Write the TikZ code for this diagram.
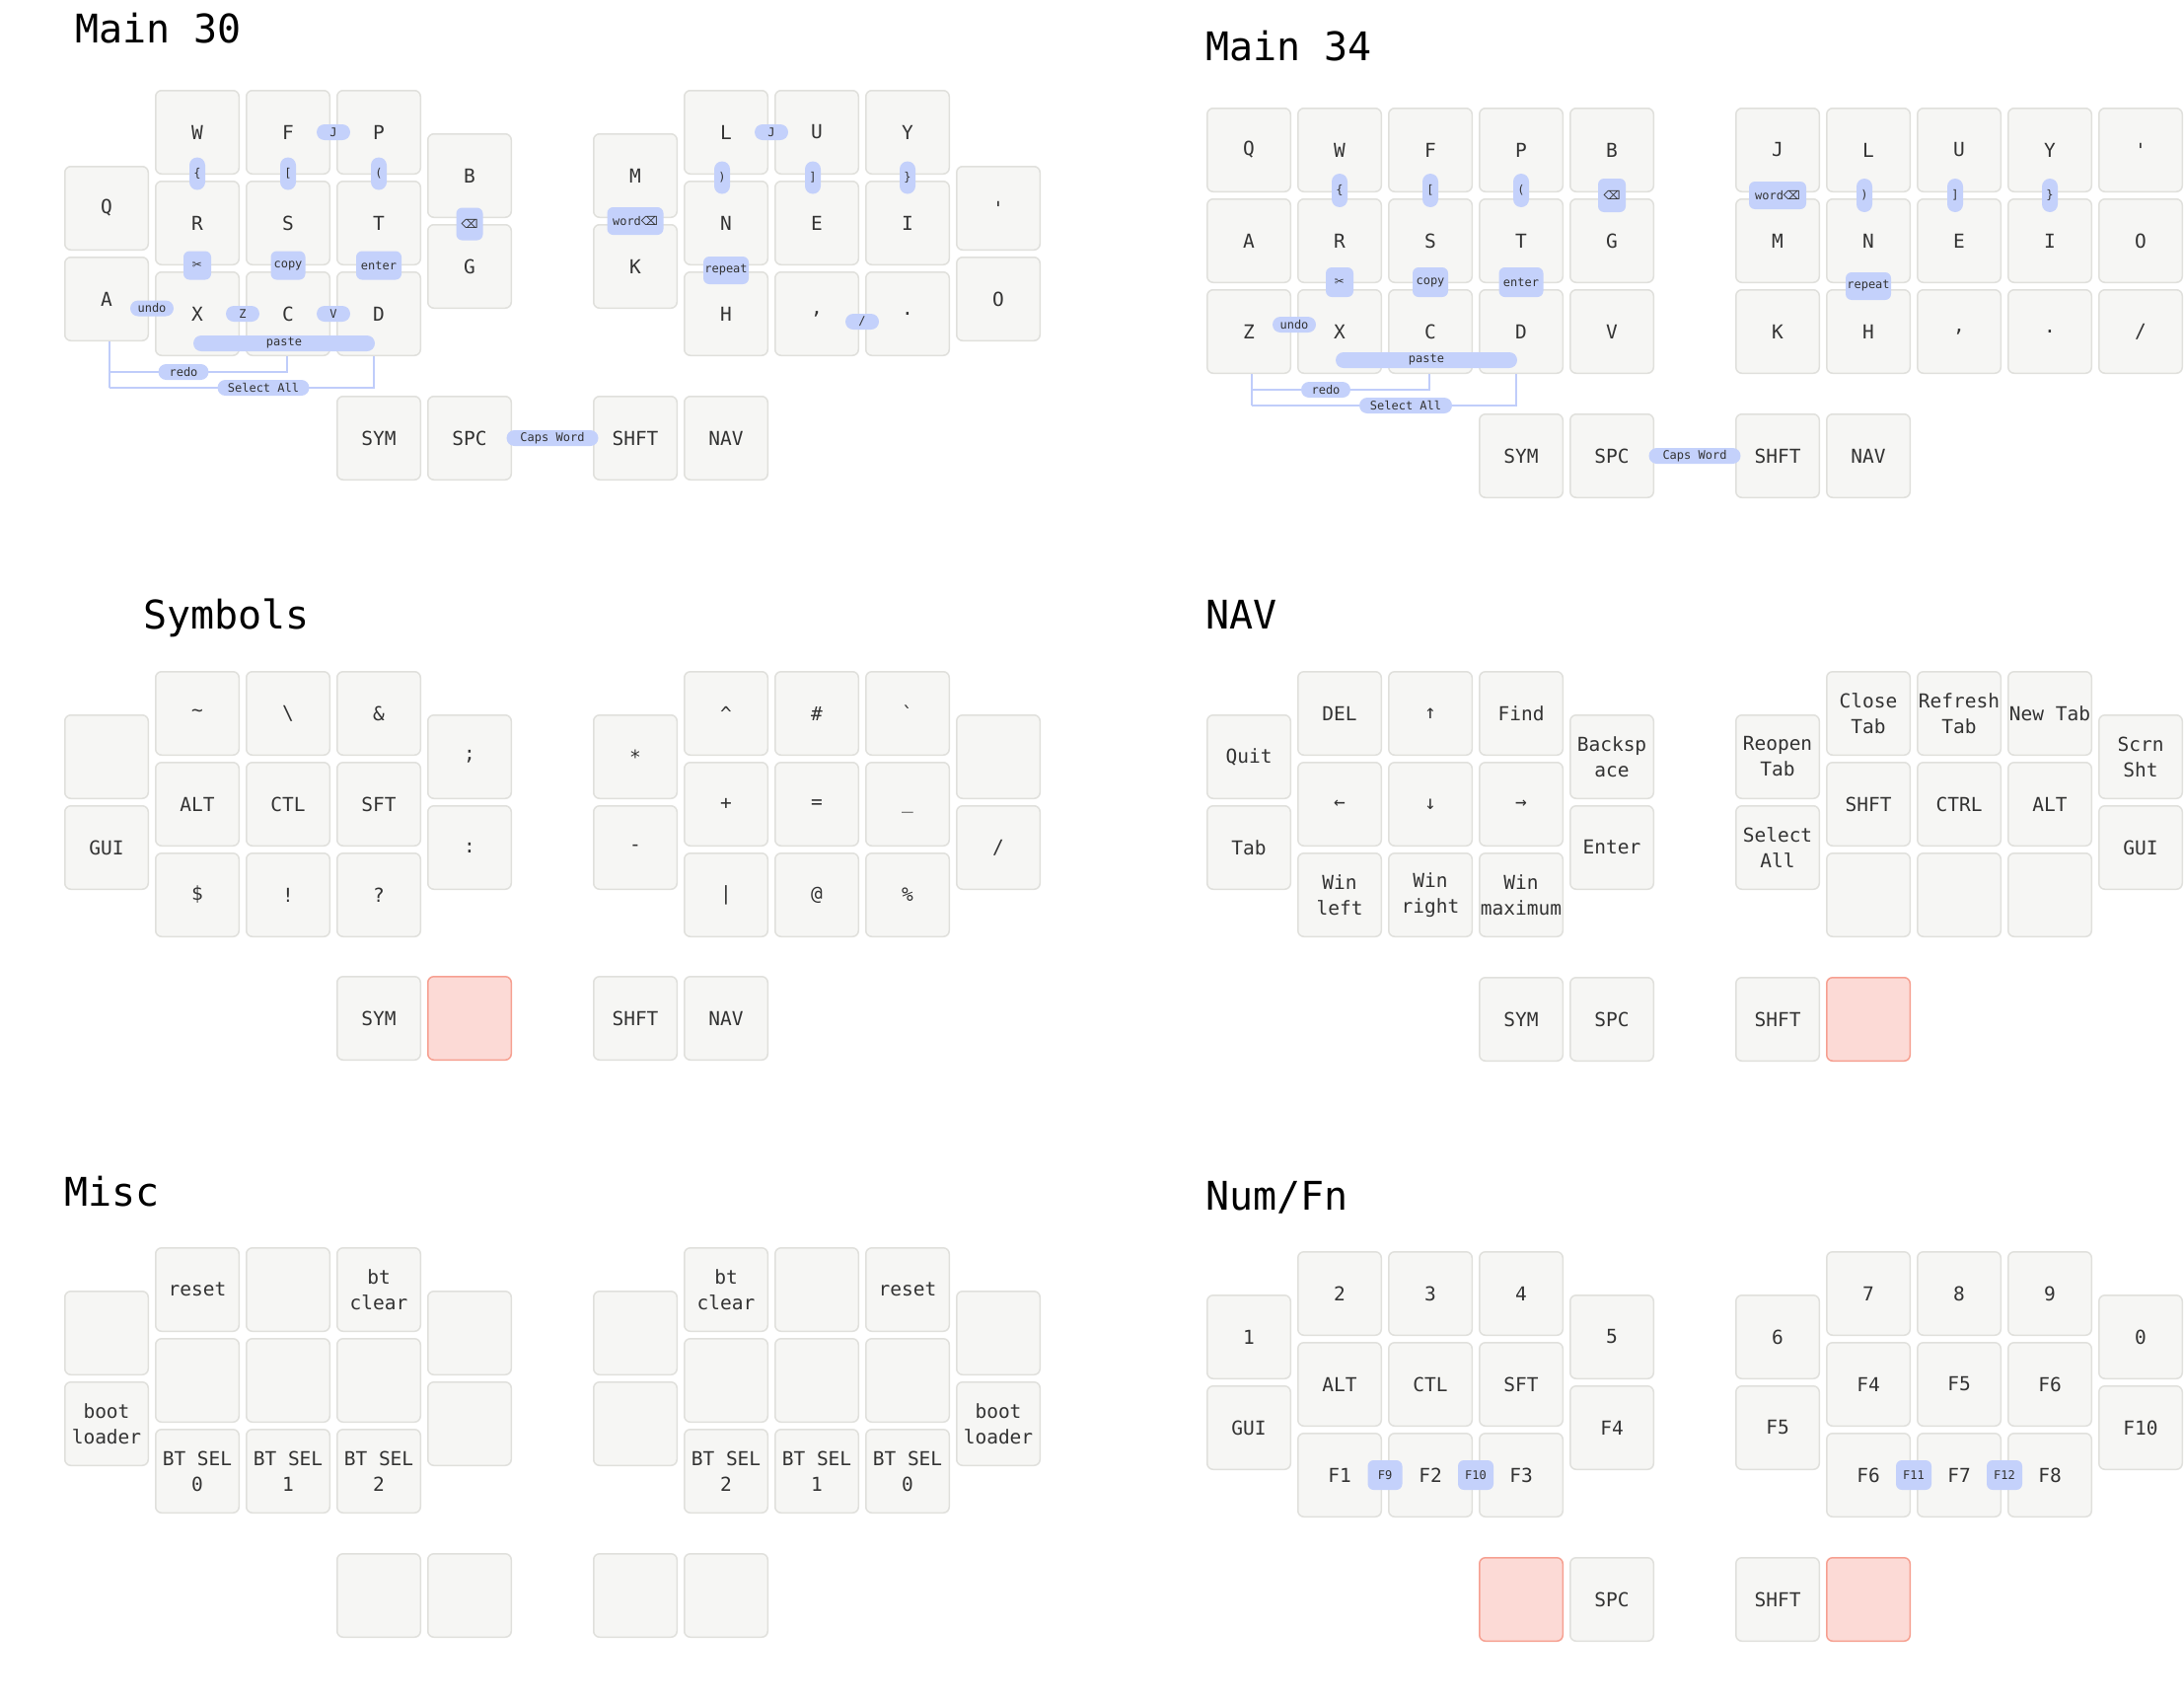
\documentclass[tikz,border=0pt]{standalone}
\usepackage{fontspec}
\setmonofont{DejaVu Sans Mono}
\newfontfamily\symfont{DejaVu Sans}
\usetikzlibrary{calc}

\definecolor{keybg}{HTML}{F6F6F4}
\definecolor{keyedge}{HTML}{E0E0DC}
\definecolor{keyink}{HTML}{333333}
\definecolor{heldbg}{HTML}{FCDAD6}
\definecolor{heldedge}{HTML}{F6A091}
\definecolor{combobg}{HTML}{C4D1FB}
\definecolor{comboedge}{HTML}{C0CDFA}

\begin{document}
\begin{tikzpicture}[x=1pt, y=-1pt,
    key/.style={draw=keyedge, fill=keybg, line width=1.5pt, rounded corners=6pt,
      minimum width=84.5pt, minimum height=84.5pt, inner sep=0pt, anchor=north west,
      align=center, text=keyink, font=\ttfamily\fontsize{19.5}{26}\selectfont},
    held/.style={key, draw=heldedge, fill=heldbg},
    combo/.style={fill=combobg, rounded corners=6pt, inner sep=0pt, text=keyink,
      font=\ttfamily\fontsize{12}{14}\selectfont},
    hcombo/.style={combo, rounded corners=8pt, minimum height=16pt},
    vcombo/.style={combo, rounded corners=8pt, minimum width=16pt, minimum height=33pt},
    boxcombo/.style={combo, minimum height=29pt},
    combolink/.style={draw=comboedge, line width=2pt},
    title/.style={anchor=base west, inner sep=0pt, font=\ttfamily\fontsize{40}{40}\selectfont}]
  \useasboundingbox (0,0) rectangle (2214,1722);
  \fill[white] (0,0) rectangle (2214,1722);

  % layer titles
  \node[title] (t-main30) at (76,43) {Main 30};
  \node[title] (t-main34) at (1222,61) {Main 34};
  \node[title] (t-sym) at (145,637) {Symbols};
  \node[title] (t-nav) at (1222,637) {NAV};
  \node[title] (t-misc) at (65,1222) {Misc};
  \node[title] (t-num) at (1222,1226) {Num/Fn};

  % Main 30
  \begin{scope}[shift={(65,91)}]
    \foreach \lx/\ly/\klist [count=\col from 0] in {0/77/{Q,A}, 92/0/{W,R,X},
        184/0/{F,S,C}, 276/0/{P,T,D}, 368/44/{B,G}, 536/44/{M,K}, 628/0/{L,N,H},
        720/0/{U,E,{,}}, 812/0/{Y,I,.}, 904/77/{',O}}
      \foreach \klab [count=\row from 0] in \klist
        \node[key] (m30-\col-\row) at ({\lx},{\ly+92*\row}) {\klab};
    \foreach \lx/\klab [count=\n] in {276/SYM, 368/SPC, 536/SHFT, 628/NAV}
      \node[key] (m30-t\n) at (\lx,310) {\klab};
    % combos
    \node[hcombo, minimum width=34pt] (m30-c-j) at ($(m30-2-0)!.5!(m30-3-0)$) {J};
    \node[vcombo, yshift=4pt] (m30-c-lbrace) at ($(m30-1-0)!.5!(m30-1-1)$) {\{};
    \node[vcombo, yshift=4pt] (m30-c-lbrack) at ($(m30-2-0)!.5!(m30-2-1)$) {[};
    \node[vcombo, yshift=4pt] (m30-c-lparen) at ($(m30-3-0)!.5!(m30-3-1)$) {(};
    \node[combo, minimum width=27pt, minimum height=33pt, yshift=-3pt] (m30-c-bspc) at ($(m30-4-0)!.5!(m30-4-1)$) {\symfont ⌫};
    \node[boxcombo, minimum width=28pt, yshift=3pt] (m30-c-cut) at ($(m30-1-1)!.5!(m30-1-2)$) {\symfont ✂};
    \node[boxcombo, minimum width=35pt, yshift=3pt] (m30-c-copy) at ($(m30-2-1)!.5!(m30-2-2)$) {copy};
    \node[boxcombo, minimum width=46pt, yshift=3pt] (m30-c-enter) at ($(m30-3-1)!.5!(m30-3-2)$) {enter};
    \node[hcombo, minimum width=44pt, yshift=-2pt] (m30-c-undo) at ($(m30-0-1)!.5!(m30-1-2)$) {undo};
    \node[hcombo, minimum width=34pt] (m30-c-z) at ($(m30-1-2)!.5!(m30-2-2)$) {Z};
    \node[hcombo, minimum width=34pt] (m30-c-v) at ($(m30-2-2)!.5!(m30-3-2)$) {V};
    \node[hcombo, minimum width=184pt] (m30-c-paste) at ($(m30-2-2)+(-4,30)$) {paste};
    \coordinate (m30-redo-at) at (121,286);
    \coordinate (m30-sel-at) at (202,302);
    \draw[combolink] ([xshift=3pt]m30-0-1.south) -- ([xshift=3pt]m30-0-1.south |- m30-sel-at);
    \draw[combolink] ([xshift=-1pt]m30-2-2.south) |- ([xshift=3pt]m30-0-1.south |- m30-redo-at);
    \draw[combolink] ([xshift=-5pt]m30-3-2.south) |- ([xshift=3pt]m30-0-1.south |- m30-sel-at);
    \node[hcombo, minimum width=51pt] (m30-c-redo) at (m30-redo-at) {redo};
    \node[hcombo, minimum width=93pt] (m30-c-sel) at (m30-sel-at) {Select All};
    \node[combo, minimum width=57pt, minimum height=28pt] (m30-c-wbspc) at ($(m30-5-0)!.5!(m30-5-1)$) {word{\symfont ⌫}};
    \node[hcombo, minimum width=34pt] (m30-c-j2) at ($(m30-6-0)!.5!(m30-7-0)$) {J};
    \node[vcombo, xshift=-4pt] (m30-c-rparen) at ($(m30-6-0)!.5!(m30-6-1)$) {)};
    \node[vcombo, xshift=-4pt] (m30-c-rbrack) at ($(m30-7-0)!.5!(m30-7-1)$) {]};
    \node[vcombo] (m30-c-rbrace) at ($(m30-8-0)!.5!(m30-8-1)$) {\}};
    \node[combo, minimum width=46pt, minimum height=28pt, yshift=-2pt] (m30-c-rep) at ($(m30-6-1)!.5!(m30-6-2)$) {repeat};
    \node[hcombo, minimum width=34pt, yshift=-8pt] (m30-c-slash) at ($(m30-7-2)!.5!(m30-8-2)$) {/};
    \node[hcombo, minimum width=93pt] (m30-c-caps) at ($(m30-t2)!.5!(m30-t3)$) {Caps Word};
  \end{scope}

  % Main 34
  \begin{scope}[shift={(1223,109)}]
    \foreach \lx/\ly/\klist [count=\col from 0] in {0/0/{Q,A,Z}, 92/0/{W,R,X},
        184/0/{F,S,C}, 276/0/{P,T,D}, 368/0/{B,G,V}, 536/0/{J,M,K}, 628/0/{L,N,H},
        720/0/{U,E,{,}}, 812/0/{Y,I,.}, 904/0/{',O,{/}}}
      \foreach \klab [count=\row from 0] in \klist
        \node[key] (m34-\col-\row) at ({\lx},{\ly+92*\row}) {\klab};
    \foreach \lx/\klab [count=\n] in {276/SYM, 368/SPC, 536/SHFT, 628/NAV}
      \node[key] (m34-t\n) at (\lx,310) {\klab};
    % combos
    \node[vcombo, minimum height=34pt, yshift=5pt] (m34-c-lbrace) at ($(m34-1-0)!.5!(m34-1-1)$) {\{};
    \node[vcombo, minimum height=34pt, yshift=5pt] (m34-c-lbrack) at ($(m34-2-0)!.5!(m34-2-1)$) {[};
    \node[vcombo, minimum height=34pt, yshift=5pt] (m34-c-lparen) at ($(m34-3-0)!.5!(m34-3-1)$) {(};
    \node[combo, minimum width=28pt, minimum height=34pt] (m34-c-bspc) at ($(m34-4-0)!.5!(m34-4-1)$) {\symfont ⌫};
    \node[boxcombo, minimum width=28pt, minimum height=30pt, yshift=4pt] (m34-c-cut) at ($(m34-1-1)!.5!(m34-1-2)$) {\symfont ✂};
    \node[boxcombo, minimum width=36pt, minimum height=30pt, yshift=4pt] (m34-c-copy) at ($(m34-2-1)!.5!(m34-2-2)$) {copy};
    \node[boxcombo, minimum width=45pt, minimum height=30pt, yshift=4pt] (m34-c-enter) at ($(m34-3-1)!.5!(m34-3-2)$) {enter};
    \node[hcombo, minimum width=44pt, yshift=7pt] (m34-c-undo) at ($(m34-0-2)!.5!(m34-1-2)$) {undo};
    \node[hcombo, minimum width=184pt] (m34-c-paste) at ($(m34-2-2)+(-4,29)$) {paste};
    \coordinate (m34-redo-at) at (121,286);
    \coordinate (m34-sel-at) at (202,302);
    \draw[combolink] ([xshift=3pt]m34-0-2.south) -- ([xshift=3pt]m34-0-2.south |- m34-sel-at);
    \draw[combolink] ([xshift=-1pt]m34-2-2.south) |- ([xshift=3pt]m34-0-2.south |- m34-redo-at);
    \draw[combolink] ([xshift=-5pt]m34-3-2.south) |- ([xshift=3pt]m34-0-2.south |- m34-sel-at);
    \node[hcombo, minimum width=50pt] (m34-c-redo) at (m34-redo-at) {redo};
    \node[hcombo, minimum width=94pt] (m34-c-sel) at (m34-sel-at) {Select All};
    \node[combo, minimum width=58pt, minimum height=28pt] (m34-c-wbspc) at ($(m34-5-0)!.5!(m34-5-1)$) {word{\symfont ⌫}};
    \node[vcombo, minimum height=34pt, xshift=-4pt] (m34-c-rparen) at ($(m34-6-0)!.5!(m34-6-1)$) {)};
    \node[vcombo, minimum height=34pt, xshift=-4pt] (m34-c-rbrack) at ($(m34-7-0)!.5!(m34-7-1)$) {]};
    \node[vcombo, minimum height=34pt] (m34-c-rbrace) at ($(m34-8-0)!.5!(m34-8-1)$) {\}};
    \node[combo, minimum width=46pt, minimum height=28pt] (m34-c-rep) at ($(m34-6-1)!.5!(m34-6-2)$) {repeat};
    \node[hcombo, minimum width=93pt] (m34-c-caps) at ($(m34-t2)!.5!(m34-t3)$) {Caps Word};
  \end{scope}

  % Symbols
  \begin{scope}[shift={(65,680)}]
    \foreach \lx/\ly/\klist [count=\col from 0] in {0/44/{{},GUI},
        92/0/{\textasciitilde,ALT,\$}, 184/0/{\textbackslash,CTL,!}, 276/0/{\&,SFT,?},
        368/44/{;,:}, 536/44/{*,-}, 628/0/{\textasciicircum,+,|}, 720/0/{\#,=,@},
        812/0/{`,\vphantom{X}\_,\%}, 904/44/{{},{/}}}
      \foreach \klab [count=\row from 0] in \klist
        \node[key] (sym-\col-\row) at ({\lx},{\ly+92*\row}) {\klab};
    \foreach \n/\lx/\klab in {1/276/SYM, 3/536/SHFT, 4/628/NAV}
      \node[key] (sym-t\n) at (\lx,309) {\klab};
    \node[held] (sym-t2) at (368,309) {};
  \end{scope}

  % NAV
  \begin{scope}[shift={(1223,680)}]
    \foreach \lx/\ly/\klist [count=\col from 0] in {0/44/{Quit,Tab},
        92/0/{DEL,←,Win\\left}, 184/0/{↑,↓,Win\\right}, 276/0/{Find,→,Win\\maximum},
        368/44/{Backsp\\ace,Enter}, 536/44/{Reopen\\Tab,Select\\All},
        628/0/{Close\\Tab,SHFT,{}}, 720/0/{Refresh\\Tab,CTRL,{}},
        812/0/{New Tab,ALT,{}}, 904/44/{Scrn\\Sht,GUI}}
      \foreach \klab [count=\row from 0] in \klist
        \node[key] (nav-\col-\row) at ({\lx},{\ly+92*\row}) {\klab};
    \foreach \n/\lx/\klab in {1/276/SYM, 2/368/SPC, 3/536/SHFT}
      \node[key] (nav-t\n) at (\lx,310) {\klab};
    \node[held] (nav-t4) at (628,310) {};
  \end{scope}

  % Misc
  \begin{scope}[shift={(65,1264)}]
    \foreach \lx/\ly/\klist [count=\col from 0] in {0/44/{{},boot\\loader},
        92/0/{reset,{},BT SEL\\0}, 184/0/{{},{},BT SEL\\1}, 276/0/{bt\\clear,{},BT SEL\\2},
        368/44/{{},{}}, 536/44/{{},{}}, 628/0/{bt\\clear,{},BT SEL\\2},
        720/0/{{},{},BT SEL\\1}, 812/0/{reset,{},BT SEL\\0}, 904/44/{{},boot\\loader}}
      \foreach \klab [count=\row from 0] in \klist
        \node[key] (misc-\col-\row) at ({\lx},{\ly+92*\row}) {\klab};
    \foreach \lx [count=\n] in {276,368,536,628}
      \node[key] (misc-t\n) at (\lx,310) {};
  \end{scope}

  % Num/Fn
  \begin{scope}[shift={(1223,1268)}]
    \foreach \lx/\ly/\klist [count=\col from 0] in {0/44/{1,GUI}, 92/0/{2,ALT,F1},
        184/0/{3,CTL,F2}, 276/0/{4,SFT,F3}, 368/44/{5,F4}, 536/44/{6,F5},
        628/0/{7,F4,F6}, 720/0/{8,F5,F7}, 812/0/{9,F6,F8}, 904/44/{0,F10}}
      \foreach \klab [count=\row from 0] in \klist
        \node[key] (num-\col-\row) at ({\lx},{\ly+92*\row}) {\klab};
    \node[held] (num-t1) at (276,310) {};
    \node[key] (num-t2) at (368,310) {SPC};
    \node[key] (num-t3) at (536,310) {SHFT};
    \node[held] (num-t4) at (628,310) {};
    % combos
    \node[combo, minimum width=35pt, minimum height=30pt] (num-c-f9) at ($(num-1-2)!.5!(num-2-2)$) {F9};
    \node[combo, minimum width=36pt, minimum height=30pt] (num-c-f10) at ($(num-2-2)!.5!(num-3-2)$) {F10};
    \node[combo, minimum width=36pt, minimum height=30pt] (num-c-f11) at ($(num-6-2)!.5!(num-7-2)$) {F11};
    \node[combo, minimum width=36pt, minimum height=30pt] (num-c-f12) at ($(num-7-2)!.5!(num-8-2)$) {F12};
  \end{scope}
\end{tikzpicture}
\end{document}
